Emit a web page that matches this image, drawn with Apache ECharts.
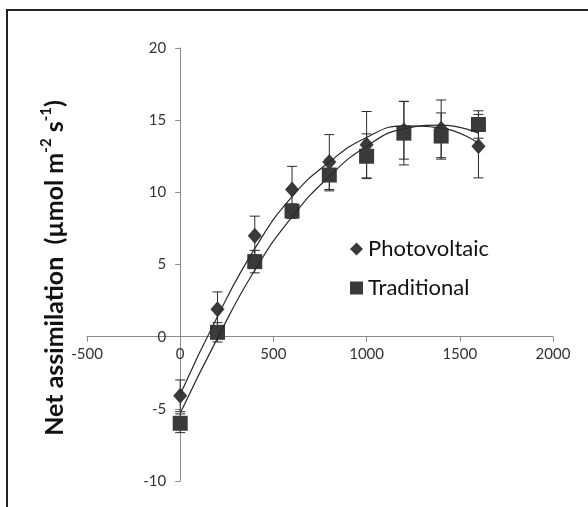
<!DOCTYPE html>
<html><head><meta charset="utf-8">
<script src="https://cdn.jsdelivr.net/npm/echarts@6/dist/echarts.min.js"></script>
<style>html,body{margin:0;padding:0;background:#fff}#c{width:588px;height:507px}</style>
</head><body><div id="c"></div>
<script>
// ---- data ----
const xValues = [0, 200, 400, 600, 800, 1000, 1200, 1400, 1600];
const photovoltaic = [-4.1, 1.9, 7.0, 10.2, 12.1, 13.3, 14.3, 14.4, 13.2];
const photovoltaicErr = [1.1, 1.2, 1.35, 1.6, 1.9, 2.3, 2.0, 2.0, 2.2];
const traditional = [-6.0, 0.3, 5.2, 8.7, 11.2, 12.5, 14.1, 13.9, 14.7];
const traditionalErr = [0.65, 0.67, 0.78, 0.5, 1.1, 1.55, 2.2, 1.6, 0.95];
// trendline values at the same x positions
const photovoltaicTrend = [-4.0, 1.4, 6.1, 9.7, 12.1, 13.8, 14.6, 14.45, 13.4];
const traditionalTrend = [-5.3, -0.1, 4.6, 8.3, 11.1, 13.2, 14.4, 14.65, 14.1];
const xTicks = [-500, 0, 500, 1000, 1500, 2000];
const yTicks = [-10, -5, 0, 5, 10, 15, 20];
const seriesNames = ['Photovoltaic', 'Traditional'];

const pair = (xs, ys) => xs.map((x, i) => [x, ys[i]]);
const errData = (xs, ys, es) => xs.map((x, i) => [x, ys[i] - es[i], ys[i] + es[i]]);

const markerColor = '#3a3a3a';
const lineColor = '#2a2a2a';

function errorBar(params, api) {
  const x = api.value(0);
  const lo = api.coord([x, api.value(1)]);
  const hi = api.coord([x, api.value(2)]);
  const w = 5;
  const style = { stroke: lineColor, lineWidth: 1, fill: null };
  return {
    type: 'group',
    children: [
      { type: 'line', shape: { x1: lo[0], y1: lo[1], x2: hi[0], y2: hi[1] }, style },
      { type: 'line', shape: { x1: lo[0] - w, y1: lo[1], x2: lo[0] + w, y2: lo[1] }, style },
      { type: 'line', shape: { x1: hi[0] - w, y1: hi[1], x2: hi[0] + w, y2: hi[1] }, style }
    ]
  };
}

const font = 'Lato, "Liberation Sans", sans-serif';
const gridLeft = 87, gridRight = 35, gridTop = 48, gridBottom = 26;
const W = 588, H = 507;
const plotW = W - gridLeft - gridRight, plotH = H - gridTop - gridBottom;
// shift axes so they cross at zero (offset computed from the axis ranges)
const xAxisOffset = -plotH * (0 - yTicks[0]) / (yTicks[yTicks.length - 1] - yTicks[0]);
const yAxisOffset = -plotW * (0 - xTicks[0]) / (xTicks[xTicks.length - 1] - xTicks[0]);

const chart = echarts.init(document.getElementById('c'), null, { renderer: 'canvas' });
chart.setOption({
  backgroundColor: '#fff',
  animation: false,
  grid: { left: gridLeft, right: gridRight, top: gridTop, bottom: gridBottom, containLabel: false },
  legend: {
    orient: 'vertical',
    left: 345,
    top: 233,
    itemWidth: 13,
    itemHeight: 13,
    itemGap: 17,
    textStyle: { fontFamily: font, fontSize: 22, color: '#111' },
    data: [
      { name: seriesNames[0], icon: 'diamond' },
      { name: seriesNames[1], icon: 'rect' }
    ]
  },
  xAxis: {
    type: 'value',
    position: 'bottom',
    offset: xAxisOffset,
    min: xTicks[0], max: xTicks[xTicks.length - 1], interval: 500,
    axisLine: { onZero: false, lineStyle: { color: '#8a8a8a', width: 1 } },
    axisTick: { show: true, length: 5, lineStyle: { color: '#8a8a8a' } },
    axisLabel: { margin: 10, fontFamily: font, fontSize: 15, color: '#333', formatter: v => String(v) },
    splitLine: { show: false }
  },
  yAxis: {
    type: 'value',
    position: 'left',
    offset: yAxisOffset,
    min: yTicks[0], max: yTicks[yTicks.length - 1], interval: 5,
    axisLine: { onZero: false, lineStyle: { color: '#8a8a8a', width: 1 } },
    axisTick: { show: true, length: 5, lineStyle: { color: '#8a8a8a' } },
    axisLabel: { margin: 14, fontFamily: font, fontSize: 15, color: '#333', formatter: v => String(v) },
    splitLine: { show: false }
  },
  graphic: [
    {
      type: 'rect', silent: true,
      shape: { x: 7, y: 10, width: 700, height: 700 },
      style: { fill: null, stroke: '#222', lineWidth: 2 }
    },
    {
      type: 'text', silent: true,
      x: 55, y: 268, rotation: Math.PI / 2,
      style: {
        text: '{a|Net assimilation  (\u00b5mol m}{s|-2}{a| s}{s|-1}{a|)}',
        rich: {
          a: { font: 'bold 25px ' + font, fill: '#111', lineHeight: 32, verticalAlign: 'middle' },
          s: { font: 'bold 15px ' + font, fill: '#111', lineHeight: 19, verticalAlign: 'top' }
        },
        align: 'center',
        verticalAlign: 'middle'
      }
    }
  ],
  series: [
    { type: 'custom', name: 'pvErr', renderItem: errorBar, data: errData(xValues, photovoltaic, photovoltaicErr), z: 1, silent: true },
    { type: 'custom', name: 'trErr', renderItem: errorBar, data: errData(xValues, traditional, traditionalErr), z: 1, silent: true },
    { type: 'scatter', name: seriesNames[0], symbol: 'diamond', symbolSize: [14, 16], itemStyle: { color: markerColor, opacity: 1 }, data: pair(xValues, photovoltaic), z: 3 },
    { type: 'scatter', name: seriesNames[1], symbol: 'rect', symbolSize: 15, itemStyle: { color: markerColor, opacity: 1 }, data: pair(xValues, traditional), z: 2 },
    { type: 'line', name: 'pvTrend', smooth: true, showSymbol: false, symbol: 'none', lineStyle: { color: lineColor, width: 1.2 }, data: pair(xValues, photovoltaicTrend), z: 4, silent: true },
    { type: 'line', name: 'trTrend', smooth: true, showSymbol: false, symbol: 'none', lineStyle: { color: lineColor, width: 1.2 }, data: pair(xValues, traditionalTrend), z: 4, silent: true }
  ]
});
</script>
</body></html>
